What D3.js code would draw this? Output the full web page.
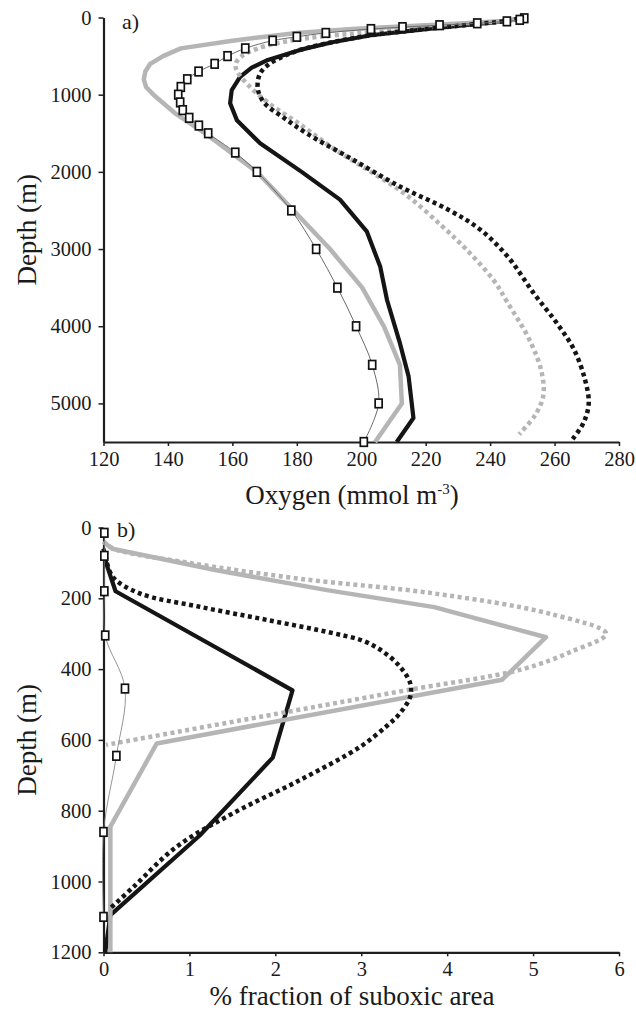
<!DOCTYPE html>
<html>
<head>
<meta charset="utf-8">
<script src="https://cdn.jsdelivr.net/npm/d3@7"></script>
<style>
body { margin: 0; background: #fff; }
svg { display: block; font-family: "Liberation Serif", "Times New Roman", serif; }
</style>
</head>
<body>
<svg id="chart" width="636" height="1011"></svg>
<script>
// ---- panel a: oxygen (mmol m-3) against depth (m) ----
var obsDepthA = [10, 30, 50, 75, 100, 125, 150, 200, 250, 300, 400, 500, 600, 700, 800, 900, 1000,
                 1100, 1200, 1300, 1400, 1500, 1750, 2000, 2500, 3000, 3500, 4000, 4500, 5000, 5500];
var obsO2 = [250.6, 249.2, 245.2, 236, 224.3, 212.8, 203, 189, 180, 172.5, 164, 158.5, 154.5, 149.5, 146, 144, 143.2,
             143.8, 144.6, 146.6, 149.6, 152.5, 160.9, 167.6, 178.3, 186, 192.6, 198.4, 203.4, 205.4, 200.8];

var blackSolidDepthA = [0, 50, 100, 150, 230, 320, 420, 550, 650, 770, 940, 1110, 1330, 1630, 2000, 2360, 2770,
                        3230, 3660, 4220, 4650, 5190, 5500];
var blackSolidO2 = [251, 244, 232, 220, 203, 191, 181, 171, 166, 162.4, 159.8, 159.3, 161.4, 168.6, 181.5, 193.4, 201.7,
                    205.9, 208, 212, 214.7, 216.2, 211];

var graySolidDepthA = [10, 30, 50, 75, 100, 150, 200, 300, 400, 500, 600, 700, 800, 900, 1000, 1250, 1500, 2000,
                       2500, 3000, 3500, 4000, 4500, 5000, 5500];
var graySolidO2 = [251, 248, 243, 232, 220, 197, 180, 160, 144, 138.5, 134.5, 133, 132.5, 133.2, 135.5, 142.5, 151.5, 167.6,
                   179, 190.3, 200.3, 207, 212, 212.6, 204.3];

var grayDotDepthA = [0, 50, 100, 150, 200, 250, 300, 400, 500, 600, 700, 900, 1100, 1400, 1700, 2000, 2300, 2700,
                     3000, 3400, 3700, 4200, 4600, 4900, 5150, 5400];
var grayDotO2 = [251, 243, 229, 214, 200, 187, 178, 168, 163, 161, 161.5, 165.5, 171, 181.5, 191.5, 203, 214, 225,
                 232.5, 241, 245.5, 252.5, 256, 256.5, 254, 249];

var blackDotDepthA = [0, 50, 100, 150, 230, 320, 420, 500, 600, 700, 800, 950, 1110, 1300, 1500, 1820, 2190, 2490,
                      2750, 3100, 3570, 3960, 4300, 4700, 5000, 5250, 5470];
var blackDotO2 = [251, 244, 232, 220, 203, 191, 181, 176, 171.5, 169, 168, 168, 170, 176, 183, 196.5, 212, 227,
                  237, 245.5, 253.5, 260.7, 266, 269.5, 270.6, 269, 265.5];

var depthTicksA = [0, 1000, 2000, 3000, 4000, 5000];
var o2Ticks = [120, 140, 160, 180, 200, 220, 240, 260, 280];

// ---- panel b: % fraction of suboxic area against depth (m) ----
var obsDepthB = [15, 80, 180, 305, 455, 645, 860, 1100];
var obsFrac = [0.01, 0.01, 0.01, 0.02, 0.25, 0.15, 0.0, 0.0];

var blackSolidDepthB = [60, 100, 180, 460, 650, 870, 1095, 1200];
var blackSolidFrac = [0.0, 0.03, 0.14, 2.2, 1.97, 1.12, 0.08, 0.02];

var graySolidDepthB = [40, 60, 75, 120, 177, 225, 310, 430, 610, 845, 1200];
var graySolidFrac = [0.0, 0.1, 0.4, 1.3, 2.6, 3.85, 5.15, 4.64, 0.62, 0.08, 0.08];

var grayDotDepthB = [40, 60, 100, 145, 186, 244, 300, 350, 400, 460, 520, 614];
var grayDotFrac = [0.0, 0.12, 1.0, 2.29, 3.84, 5.2, 5.85, 5.45, 4.88, 3.52, 2.16, 0.03];

var blackDotDepthB = [80, 140, 186, 224, 261, 299, 320, 350, 393, 440, 478, 525, 560, 619, 713, 807, 902, 1015, 1080];
var blackDotFrac = [0.02, 0.11, 0.42, 1.12, 1.9, 2.68, 3.02, 3.25, 3.45, 3.57, 3.57, 3.45, 3.3, 2.99, 2.29, 1.51, 0.85, 0.35, 0.06];

var depthTicksB = [0, 200, 400, 600, 800, 1000, 1200];
var fracTicks = [0, 1, 2, 3, 4, 5, 6];

var GRAY = '#b5b5b5', BLACK = '#151515';

var svg = d3.select('#chart');

function zip(depths, values){
    return depths.map(function(d, i){ return [values[i], d]; });
}

function panel(opt){
    var x = d3.scaleLinear().domain(opt.xDomain).range([103.5, 619]),
        y = d3.scaleLinear().domain(opt.yDomain).range(opt.yRange),
        g = svg.append('g'),
        fmt = d3.format('d');

    var yAxis = g.append('g')
        .attr('transform', 'translate(103.5,0)')
        .call(d3.axisLeft(y).tickValues(opt.yTicks).tickFormat(fmt)
            .tickSize(5).tickPadding(7).tickSizeOuter(0));
    var xAxis = g.append('g')
        .attr('transform', 'translate(0,' + opt.yRange[1] + ')')
        .call(d3.axisBottom(x).tickValues(opt.xTicks).tickFormat(fmt)
            .tickSize(4).tickPadding(5).tickSizeOuter(0));

    [yAxis, xAxis].forEach(function(a){
        a.attr('font-family', null).attr('font-size', null);
        a.select('.domain').attr('stroke', '#1e1e1e').attr('stroke-width', 2.2);
        a.selectAll('.tick line').attr('stroke', '#1e1e1e').attr('stroke-width', 1.5);
        a.selectAll('.tick text').attr('fill', '#1a1a1a').style('font-size', '20.5px');
    });

    opt.series.forEach(function(s){
        var line = d3.line()
            .x(function(p){ return x(p[0]); })
            .y(function(p){ return y(p[1]); })
            .curve(s.smooth ? d3.curveCatmullRom.alpha(0.5) : d3.curveLinear);
        g.append('path')
            .datum(s.points)
            .attr('fill', 'none')
            .attr('stroke', s.color)
            .attr('stroke-width', s.width)
            .attr('stroke-dasharray', s.dash || null)
            .attr('stroke-linejoin', 'round')
            .attr('d', line);
        if(s.markers){
            g.selectAll(null)
                .data(s.points)
                .enter()
                .append('rect')
                .attr('x', function(p){ return x(p[0]) - 3.5; })
                .attr('y', function(p){ return y(p[1]) - 4.3; })
                .attr('width', 7)
                .attr('height', 8.6)
                .attr('fill', '#fff')
                .attr('stroke', '#111')
                .attr('stroke-width', 1.7);
        }
    });

    g.append('text')
        .attr('x', opt.tagX).attr('y', opt.tagY)
        .style('font-size', '22px').attr('fill', '#1a1a1a')
        .text(opt.tag);

    g.append('text')
        .attr('transform', 'translate(36,' + (opt.yRange[0] + opt.yRange[1]) / 2 + ') rotate(-90)')
        .attr('text-anchor', 'middle')
        .style('font-size', '27px').attr('fill', '#1a1a1a')
        .text('Depth (m)');

    var t = g.append('text')
        .attr('x', 352).attr('y', opt.titleY)
        .attr('text-anchor', 'middle')
        .style('font-size', '27px').attr('fill', '#1a1a1a');
    opt.title(t);
}

panel({
    xDomain: [120, 280], yDomain: [0, 5500], yRange: [17.5, 442],
    xTicks: o2Ticks, yTicks: depthTicksA,
    tag: 'a)', tagX: 122, tagY: 29,
    titleY: 504,
    title: function(t){
        t.append('tspan').text('Oxygen (mmol m');
        t.append('tspan').attr('dy', -10).style('font-size', '15px').text('-3');
        t.append('tspan').attr('dy', 10).text(')');
    },
    series: [
        {points: zip(blackSolidDepthA, blackSolidO2), color: BLACK, width: 4.2},
        {points: zip(graySolidDepthA, graySolidO2), color: GRAY, width: 4.5},
        {points: zip(grayDotDepthA, grayDotO2), color: GRAY, width: 4.5, dash: '4,3.5', smooth: true},
        {points: zip(blackDotDepthA, blackDotO2), color: BLACK, width: 4.5, dash: '4,3.5', smooth: true},
        {points: zip(obsDepthA, obsO2), color: '#6a6a6a', width: 1, smooth: true, markers: true}
    ]
});

panel({
    xDomain: [0, 6], yDomain: [0, 1200], yRange: [527.5, 952.3],
    xTicks: fracTicks, yTicks: depthTicksB,
    tag: 'b)', tagX: 117, tagY: 537,
    titleY: 1004.5,
    title: function(t){ t.text('% fraction of suboxic area'); },
    series: [
        {points: zip(blackSolidDepthB, blackSolidFrac), color: BLACK, width: 4.2},
        {points: zip(graySolidDepthB, graySolidFrac), color: GRAY, width: 4.5},
        {points: zip(grayDotDepthB, grayDotFrac), color: GRAY, width: 4.5, dash: '4,3.5', smooth: true},
        {points: zip(blackDotDepthB, blackDotFrac), color: BLACK, width: 4.5, dash: '4,3.5', smooth: true},
        {points: zip(obsDepthB, obsFrac), color: '#7a7a7a', width: 0.8, smooth: true, markers: true}
    ]
});
</script>
</body>
</html>
